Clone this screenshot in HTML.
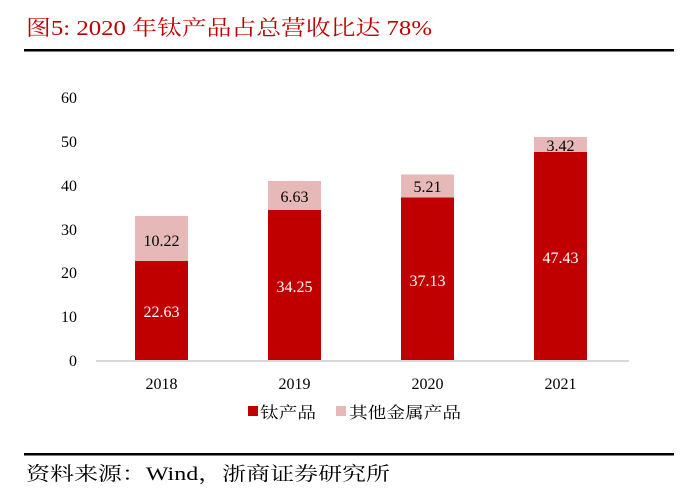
<!DOCTYPE html>
<html><head><meta charset="utf-8"><style>
body{margin:0;background:#fff;width:688px;height:503px;overflow:hidden}
svg{display:block}
</style></head><body>
<svg width="688" height="503" xmlns="http://www.w3.org/2000/svg" font-family="'Liberation Serif','Noto Serif CJK SC',serif">
<text x="26" y="35" font-size="21" fill="#c00000" textLength="406" lengthAdjust="spacingAndGlyphs">图5:  2020 年钛产品占总营收比达 78%</text>
<rect x="24" y="49" width="650" height="2.5" fill="#000"/>
<g font-size="16" fill="#000" text-anchor="end">
<text x="77" y="366">0</text>
<text x="77" y="322">10</text>
<text x="77" y="278">20</text>
<text x="77" y="235">30</text>
<text x="77" y="191">40</text>
<text x="77" y="147">50</text>
<text x="77" y="103">60</text>
</g>
<line x1="96" y1="361" x2="629" y2="361" stroke="#d9d9d9" stroke-width="2"/>
<g>
<rect x="135" y="261" width="53" height="99" fill="#c00000"/>
<rect x="135" y="216" width="53" height="45" fill="#e6b8b7"/>
<rect x="268" y="210" width="53" height="150" fill="#c00000"/>
<rect x="268" y="181" width="53" height="29" fill="#e6b8b7"/>
<rect x="401" y="197.5" width="53" height="162.5" fill="#c00000"/>
<rect x="401" y="174.5" width="53" height="23" fill="#e6b8b7"/>
<rect x="534" y="152" width="53" height="208" fill="#c00000"/>
<rect x="534" y="137" width="53" height="15" fill="#e6b8b7"/>
</g>
<g font-size="16" text-anchor="middle">
<text x="161.5" y="317" fill="#fff">22.63</text>
<text x="161.5" y="246" fill="#000">10.22</text>
<text x="294.5" y="292" fill="#fff">34.25</text>
<text x="294.5" y="202" fill="#000">6.63</text>
<text x="427.5" y="286" fill="#fff">37.13</text>
<text x="427.5" y="192" fill="#000">5.21</text>
<text x="560.5" y="263" fill="#fff">47.43</text>
<text x="560.5" y="151" fill="#000">3.42</text>
<text x="161.5" y="389" fill="#000">2018</text>
<text x="294.5" y="389" fill="#000">2019</text>
<text x="427.5" y="389" fill="#000">2020</text>
<text x="560.5" y="389" fill="#000">2021</text>
</g>
<rect x="248" y="406" width="10" height="10" fill="#c00000"/>
<text x="260" y="418" font-size="16" textLength="56" lengthAdjust="spacingAndGlyphs">钛产品</text>
<rect x="336" y="406" width="10" height="10" fill="#e6b8b7"/>
<text x="349" y="418" font-size="16" textLength="112" lengthAdjust="spacingAndGlyphs">其他金属产品</text>
<rect x="24" y="453" width="650" height="2.5" fill="#000"/>
<text x="26" y="480" font-size="19" fill="#000" textLength="364" lengthAdjust="spacingAndGlyphs">资料来源：Wind，浙商证券研究所</text>
</svg>
</body></html>
